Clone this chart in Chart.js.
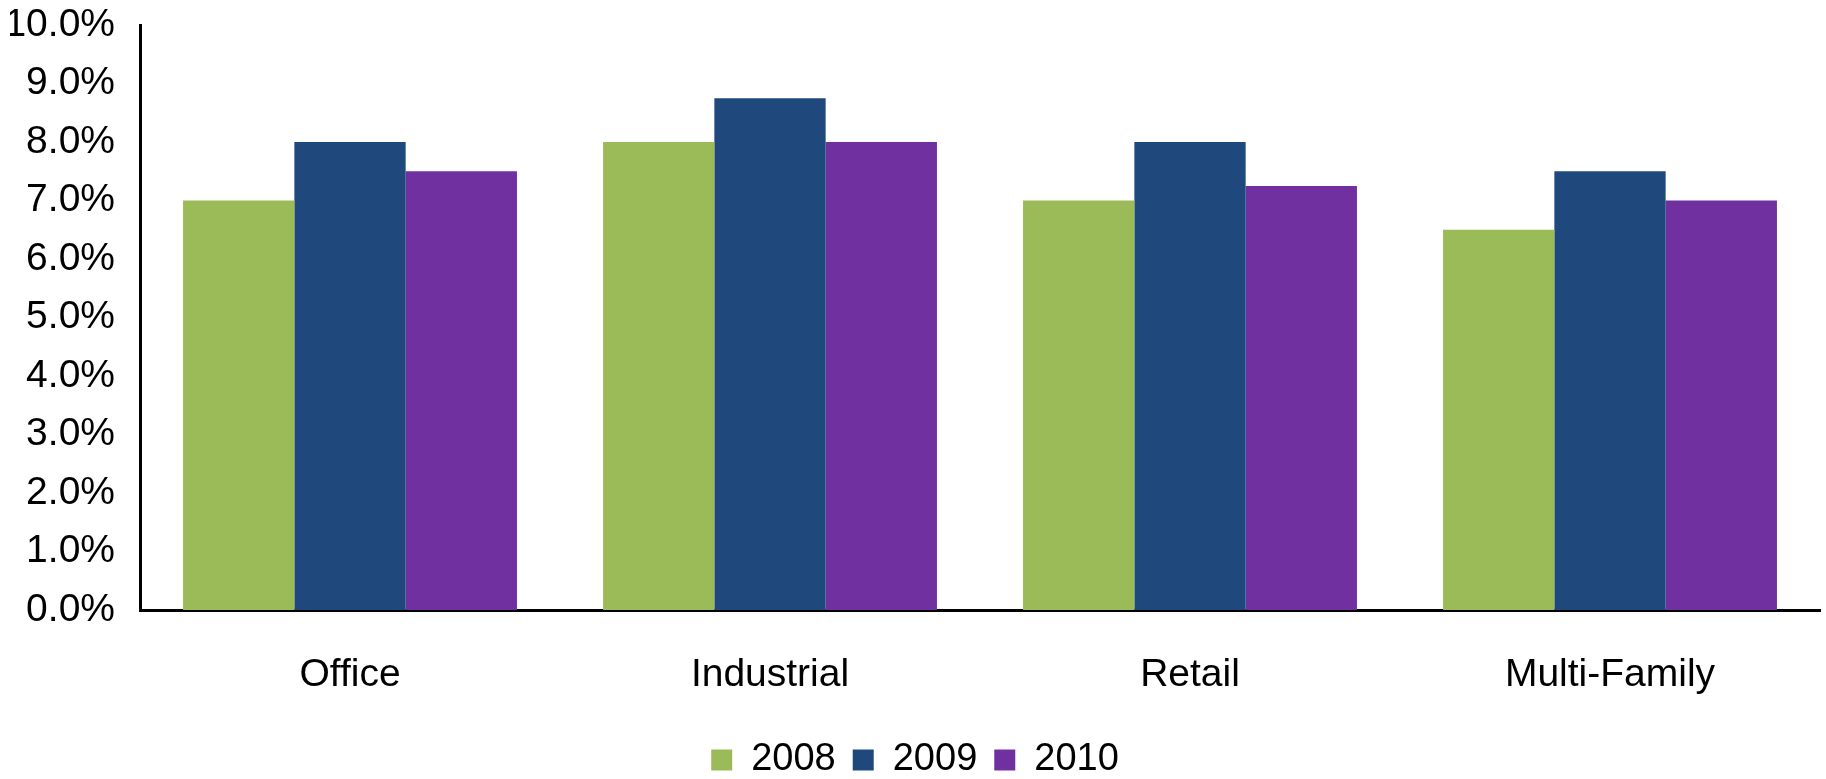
<!doctype html>
<html lang="en">
  <head>
    <meta charset="UTF-8" />
    <title>Cap Rates by Property Type</title>
    <script src="https://cdn.jsdelivr.net/npm/chart.js"></script>
    <style>
      body { margin: 0; background: #fff; }
      #wrap { width: 1826px; height: 779px; position: relative; }
    </style>
  </head>
  <body>
    <div id="wrap"><canvas id="myChart"></canvas></div>
    <script>
      const categories = ['Office', 'Industrial', 'Retail', 'Multi-Family']
      const years = ['2008', '2009', '2010']
      const values2008 = [7.0, 8.0, 7.0, 6.5]
      const values2009 = [8.0, 8.75, 8.0, 7.5]
      const values2010 = [7.5, 8.0, 7.25, 7.0]
      const colors = ['#9BBB59', '#1F497D', '#7030A0']

      const family = "'Liberation Sans', Arial, sans-serif"

      const ctx = document.getElementById('myChart').getContext('2d')

      const myChart = new Chart(ctx, {
        type: 'bar',
        data: {
          labels: categories,
          datasets: [values2008, values2009, values2010].map((vals, i) => ({
            label: years[i],
            data: vals,
            backgroundColor: colors[i],
            borderWidth: 0,
            barPercentage: 1.0,
            categoryPercentage: 0.795
          }))
        },
        options: {
          responsive: true,
          maintainAspectRatio: false,
          animation: false,
          layout: { padding: { top: 25, right: 6, left: 10, bottom: -10 } },
          plugins: {
            tooltip: { enabled: false },
            legend: {
              position: 'bottom',
              labels: {
                color: '#000',
                font: { family: family, size: 38 },
                boxWidth: 21,
                boxHeight: 21,
                padding: 17
              }
            }
          },
          scales: {
            x: {
              grid: { display: false, drawTicks: false },
              border: { display: true, color: '#000', width: 3 },
              ticks: { color: '#000', font: { family: family, size: 39 }, padding: 42 },
              afterFit: (scale) => { scale.height = 114 }
            },
            y: {
              min: 0,
              max: 10,
              grid: { display: false, drawTicks: false },
              border: { display: true, color: '#000', width: 3 },
              ticks: {
                color: '#000',
                font: { family: family, size: 39 },
                padding: 25,
                stepSize: 1,
                callback: (value) => value.toFixed(1) + '%'
              },
              afterFit: (scale) => {
                scale.width = 130
                // labels may overhang the plot; do not reserve space for them
                scale.paddingTop = 0
                scale.paddingBottom = 0
              }
            }
          }
        }
      })
    </script>
  </body>
</html>
